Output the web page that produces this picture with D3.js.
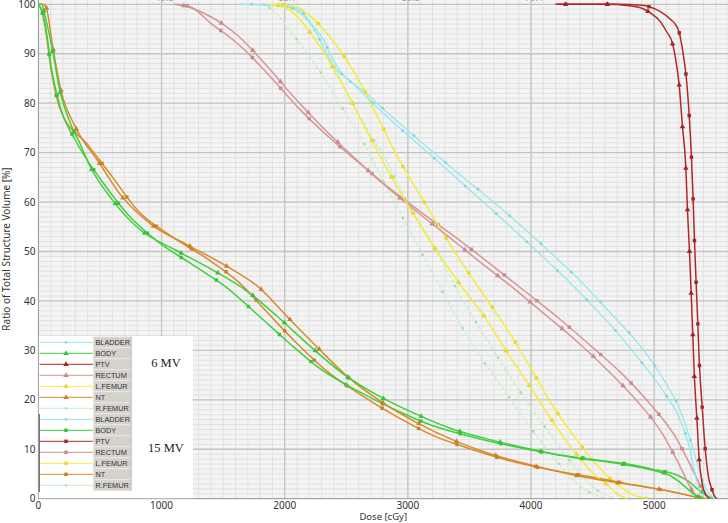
<!DOCTYPE html>
<html>
<head>
<meta charset="utf-8">
<script src="https://d3js.org/d3.v7.min.js"></script>
<style>
body { margin:0; background:#fff; }
svg { display:block; font-family:"Noto Sans", sans-serif; }
</style>
</head>
<body>
<script>

var w = 728, h = 523;

// structures and energies, legend order
var structures = ["BLADDER", "BODY", "PTV", "RECTUM", "L.FEMUR", "NT", "R.FEMUR"];
var energies = ["6 MV", "15 MV"];
var colors = ["#93e9ef", "#3fcf3f", "#b02828", "#d99494", "#f3ec3c", "#d98a2c", "#c3f2c3"];

var xTicks = [0, 1000, 2000, 3000, 4000, 5000];
var yTicks = [0, 10, 20, 30, 40, 50, 60, 70, 80, 90, 100];

// [dose cGy, volume %]
var bladder6 = [[1650,100],[1900,99.8],[2050,99.3],[2150,97.8],[2250,94.5],[2330,90.5],[2400,87.3],[2496,85.3],[2731,79.6],[2982,73.9],[3239,68.3],[3490,62.7],[3738,57.2],[3990,51.4],[4233,45.7],[4473,39.7],[4703,33.5],[4913,27.1],[5080,21.5],[5200,16.5],[5290,10],[5340,4],[5380,1],[5420,0]];
var bladder15 = [[1750,100],[2000,99.7],[2118,98.9],[2226,95.8],[2320,92.6],[2388,89],[2450,86.5],[2631,82.6],[2888,76.9],[3144,71.4],[3406,65.9],[3666,60.6],[3919,55.2],[4165,49.6],[4414,43.7],[4643,37.6],[4873,31.3],[5067,24.5],[5224,17.1],[5327,9.1],[5400,3],[5450,0.8],[5500,0]];

var body6 = [[0,100],[25,100],[60,97],[113,91],[170,83],[267,75.5],[340,71.7],[408,67.8],[592,60.7],[821,54.5],[1113,50.3],[1405,46.4],[1699,41.9],[1956,36.5],[2204,30.9],[2461,25.5],[2747,21],[3050,17.3],[3360,14.1],[3693,11.8],[4017,9.9],[4354,8.3],[4684,7.2],[5016,5.6],[5120,4.8],[5200,3.5],[5280,1.8],[5340,0.6],[5400,0]];
var body15 = [[0,100],[30,98.5],[57,95.7],[105,87.2],[180,79],[300,72.5],[511,64.4],[719,57.7],[964,52.1],[1248,47.4],[1529,42.7],[1780,37.2],[2031,31.6],[2293,26.2],[2585,21.9],[2888,18.1],[3198,14.8],[3522,12.5],[3852,10.6],[4190,9.0],[4516,7.9],[4852,6.7],[5016,5.8],[5184,4.8],[5280,3.5],[5350,2],[5420,0.7],[5480,0]];

var ptv6 = [[4200,100],[4600,100],[4800,99.7],[4900,99.2],[4960,98.4],[5050,96.5],[5100,94.5],[5148,92.1],[5180,88],[5203,83.6],[5229,75.4],[5257,66.9],[5270,58.5],[5286,50.2],[5300,41.7],[5313,33.3],[5326,24.8],[5346,16.4],[5365,8.1],[5390,3],[5420,0.8],[5450,0]];
var ptv15 = [[4200,100],[4700,100],[4900,99.8],[4960,99.5],[5050,98.5],[5130,97],[5170,96],[5203,94.3],[5235,90],[5257,86],[5284,77.6],[5302,69.3],[5316,60.7],[5327,52.3],[5340,43.9],[5354,35.5],[5367,27.1],[5389,18.8],[5413,10.4],[5440,4.5],[5467,2.0],[5490,0.5],[5510,0]];

var rectum6 = [[1100,100],[1200,99.6],[1335,98.3],[1480,96.3],[1618,93.7],[1856,87.5],[2072,81.3],[2304,75.2],[2550,69.3],[2793,63.8],[3060,58.3],[3325,53.1],[3590,47.8],[3852,42.7],[4111,37.3],[4373,31.8],[4617,26.1],[4852,20],[5062,13.3],[5221,6],[5300,2],[5360,0.3],[5400,0]];
var rectum15 = [[1130,100],[1250,99.3],[1397,96.2],[1530,93.8],[1664,91],[1896,85],[2125,78.7],[2369,72.9],[2626,67.5],[2887,62.1],[3158,57.0],[3428,52.1],[3698,46.9],[3963,41.7],[4225,36.5],[4481,31],[4733,25.4],[4962,19.3],[5173,12.5],[5327,5.1],[5400,1.5],[5450,0]];

var lfemur6 = [[1870,100],[2000,99.4],[2110,97.3],[2212,94.1],[2300,91],[2396,87],[2558,79.6],[2712,72.2],[2874,64.8],[3049,57.4],[3231,50.3],[3422,43.4],[3630,36.5],[3806,29.6],[3995,22.6],[4179,15.5],[4373,8.9],[4500,5.2],[4617,2.8],[4700,1],[4780,0]];
var lfemur15 = [[1900,100],[2100,99.4],[2212,97.5],[2330,94.5],[2434,91.2],[2617,84],[2766,76.6],[2915,69.2],[3090,61.8],[3266,54.5],[3450,47.3],[3636,40.5],[3827,33.5],[4000,26.3],[4171,19],[4365,12.1],[4576,5.7],[4720,2.5],[4846,0.6],[4950,0]];

var nt6 = [[0,100],[30,100],[59,99.6],[119,91],[181,82.8],[300,75.2],[489,68.1],[675,61.2],[921,55.4],[1213,51.3],[1510,47.3],[1793,42.7],[2028,36.6],[2266,30.6],[2509,24.7],[2780,19.7],[3071,15.4],[3374,11.8],[3693,8.9],[4017,6.7],[4346,4.8],[4684,3.3],[5022,2.0],[5184,1.2],[5346,0.3],[5420,0]];
var nt15 = [[0,100],[30,98.5],[59,94.7],[105,86.5],[186,78.2],[397,71.7],[600,65.1],[802,58.4],[1072,53.2],[1361,48.7],[1631,43.7],[1861,37.6],[2096,31.5],[2347,25.7],[2618,21],[2909,16.6],[3212,12.7],[3528,9.9],[3852,7.5],[4184,5.7],[4516,4.3],[4852,2.7],[5184,1.2],[5346,0.3],[5430,0]];

var rfemur6 = [[1800,100],[1920,98.5],[2037,94.9],[2140,91.5],[2239,88.1],[2334,84.6],[2501,77.7],[2591,74.2],[2672,70.5],[2753,66.5],[2915,58.9],[3077,51.3],[3240,43.8],[3395,36.6],[3580,29],[3766,22.6],[3968,15.3],[4180,8.5],[4400,2.5],[4550,0.5],[4620,0]];
var rfemur15 = [[1900,100],[2100,98.5],[2250,94.5],[2400,87.5],[2550,80],[2700,73.5],[2820,68.6],[2968,61.4],[3131,54.1],[3279,47.9],[3441,40.3],[3612,33.3],[3792,26.2],[3995,18.6],[4184,12.1],[4373,5.9],[4550,1.5],[4700,0]];

var data6 = [bladder6, body6, ptv6, rectum6, lfemur6, nt6, rfemur6];
var data15 = [bladder15, body15, ptv15, rectum15, lfemur15, nt15, rfemur15];

var x = d3.scaleLinear().domain([0, 5600]).range([38.4, 728.1]);
var y = d3.scaleLinear().domain([0, 100]).range([498.7, 4.3]);

var svg = d3.select("body").append("svg").attr("width", w).attr("height", h);

svg.append("clipPath").attr("id", "plotclip")
  .append("rect").attr("x", x(0)).attr("y", 0).attr("width", x(5600) - x(0)).attr("height", y(0));

// plot background
svg.append("rect").attr("x", x(0)).attr("y", 0).attr("width", x(5600) - x(0)).attr("height", y(0))
  .attr("fill", "#f4f4f4");

var grid = svg.append("g").attr("clip-path", "url(#plotclip)");
grid.selectAll(".vminor").data(d3.range(0, 5601, 100)).enter().append("line")
  .attr("x1", function(d){ return x(d); }).attr("x2", function(d){ return x(d); })
  .attr("y1", 0).attr("y2", y(0)).attr("stroke", "#e1e1e1").attr("stroke-width", 1);
grid.selectAll(".hminor").data(d3.range(0, 101, 1)).enter().append("line")
  .attr("x1", x(0)).attr("x2", x(5600))
  .attr("y1", function(d){ return y(d); }).attr("y2", function(d){ return y(d); })
  .attr("stroke", "#e1e1e1").attr("stroke-width", 1);
grid.selectAll(".vmajor").data(xTicks).enter().append("line")
  .attr("x1", function(d){ return x(d); }).attr("x2", function(d){ return x(d); })
  .attr("y1", 0).attr("y2", y(0)).attr("stroke", "#c4c4c4").attr("stroke-width", 1.3);
grid.selectAll(".hmajor").data(yTicks).enter().append("line")
  .attr("x1", x(0)).attr("x2", x(5600))
  .attr("y1", function(d){ return y(d); }).attr("y2", function(d){ return y(d); })
  .attr("stroke", "#c4c4c4").attr("stroke-width", 1.3);

// cut off labels of the upper axis
svg.selectAll(".toplab").data([1000, 2000, 3000, 4000]).enter().append("text")
  .attr("x", function(d){ return x(d) + 3; }).attr("y", 1.2)
  .attr("text-anchor", "middle").attr("font-size", "9px").attr("fill", "#999")
  .text(function(d){ return d3.format(".1f")(d / 5040 * 100); });

// axes
svg.append("line").attr("x1", x(0)).attr("x2", x(0)).attr("y1", 0).attr("y2", y(0))
  .attr("stroke", "#9a9a9a");
svg.append("line").attr("x1", x(0)).attr("x2", x(5600)).attr("y1", y(0)).attr("y2", y(0))
  .attr("stroke", "#9a9a9a");

svg.selectAll(".ylab").data(yTicks).enter().append("text")
  .attr("x", 35.5).attr("y", function(d){ return y(d) + 3.6; })
  .attr("text-anchor", "end").attr("font-size", "10px").attr("fill", "#333")
  .text(function(d){ return d; });
svg.selectAll(".xlab").data(xTicks).enter().append("text")
  .attr("x", function(d){ return x(d); }).attr("y", 509)
  .attr("text-anchor", "middle").attr("font-size", "10px").attr("fill", "#333")
  .text(function(d){ return d; });

svg.append("text").attr("x", x(2800)).attr("y", 520).attr("text-anchor", "middle")
  .attr("font-size", "9.5px").attr("fill", "#333").text("Dose [cGy]");
svg.append("text").attr("transform", "translate(9.5,249) rotate(-90)").attr("text-anchor", "middle")
  .attr("font-size", "10px").attr("fill", "#333").text("Ratio of Total Structure Volume [%]");

// curves
var line = d3.line()
  .x(function(d){ return x(d[0]); })
  .y(function(d){ return y(d[1]); })
  .curve(d3.curveMonotoneX);

var tri = d3.symbol().type(d3.symbolTriangle).size(13);
var sq = d3.symbol().type(d3.symbolSquare).size(12);
var dot = d3.symbol().type(d3.symbolCircle).size(6);

var plot = svg.append("g").attr("clip-path", "url(#plotclip)");

function drawSeries(ds, i, six){
  var c = colors[i];
  var pale = (i == 0 || i == 6);
  var p = plot.append("path").datum(ds).attr("d", line)
    .attr("fill", "none").attr("stroke", c).attr("stroke-width", pale ? 1.3 : 1.5)
    .attr("stroke-dasharray", i == 6 ? "4,2" : null);
  var node = p.node();
  var L = node.getTotalLength();
  var pts = [];
  for (var s = 10; s < L; s += 41.7) { pts.push(node.getPointAtLength(s)); }
  var sym = pale ? dot : (six ? tri : sq);
  plot.selectAll(null).data(pts).enter().append("path")
    .attr("d", sym)
    .attr("transform", function(d){ return "translate(" + d.x + "," + d.y + ")"; })
    .attr("fill", pale ? d3.color(c).darker(0.3) : d3.color(c).darker(0.2));
}

var order = [6, 0, 3, 4, 5, 1, 2];
order.forEach(function(i){ drawSeries(data15[i], i, false); });
order.forEach(function(i){ drawSeries(data6[i], i, true); });

// legend
var lg = svg.append("g");
lg.append("rect").attr("x", x(0) + 0.5).attr("y", 336).attr("width", 154).attr("height", y(0) - 336 - 0.5)
  .attr("fill", "#fff");

var rows = [];
energies.forEach(function(e, k){
  structures.forEach(function(s, i){ rows.push({name: s, i: i, six: k == 0}); });
});

var rowY = function(r){ return 342.3 + r * 11; };

rows.forEach(function(r, k){
  var yy = rowY(k);
  var c = colors[r.i];
  var pale = (r.i == 0 || r.i == 6);
  lg.append("line").attr("x1", 39.5).attr("x2", 93.3).attr("y1", yy).attr("y2", yy)
    .attr("stroke", c).attr("stroke-width", 1);
  lg.append("path").attr("d", pale ? dot : (r.six ? tri : sq))
    .attr("transform", "translate(66," + yy + ")")
    .attr("fill", d3.color(c).darker(0.2));
  lg.append("rect").attr("x", 93.3).attr("y", yy - 5.5).attr("width", 37.4).attr("height", 11)
    .attr("fill", "#d5d2cc").attr("stroke", "#ecebe7").attr("stroke-width", 0.8);
  lg.append("text").attr("x", 95.5).attr("y", yy + 2.6)
    .attr("font-family", "Liberation Sans").attr("font-size", "7.3px").attr("fill", "#333")
    .text(r.name);
});
lg.append("line").attr("x1", 131).attr("x2", 131).attr("y1", rowY(0) - 5.5).attr("y2", rowY(13) + 5.5)
  .attr("stroke", "#a9a6a0").attr("stroke-width", 1);
lg.append("line").attr("x1", 39.3).attr("x2", 39.3).attr("y1", 414).attr("y2", 492)
  .attr("stroke", "#555").attr("stroke-width", 1);

lg.append("text").attr("x", 166).attr("y", 367).attr("text-anchor", "middle")
  .attr("font-family", "Liberation Serif").attr("font-size", "12.5px").attr("fill", "#222").text(energies[0]);
lg.append("text").attr("x", 166).attr("y", 452).attr("text-anchor", "middle")
  .attr("font-family", "Liberation Serif").attr("font-size", "12.5px").attr("fill", "#222").text(energies[1]);

</script>
</body>
</html>
